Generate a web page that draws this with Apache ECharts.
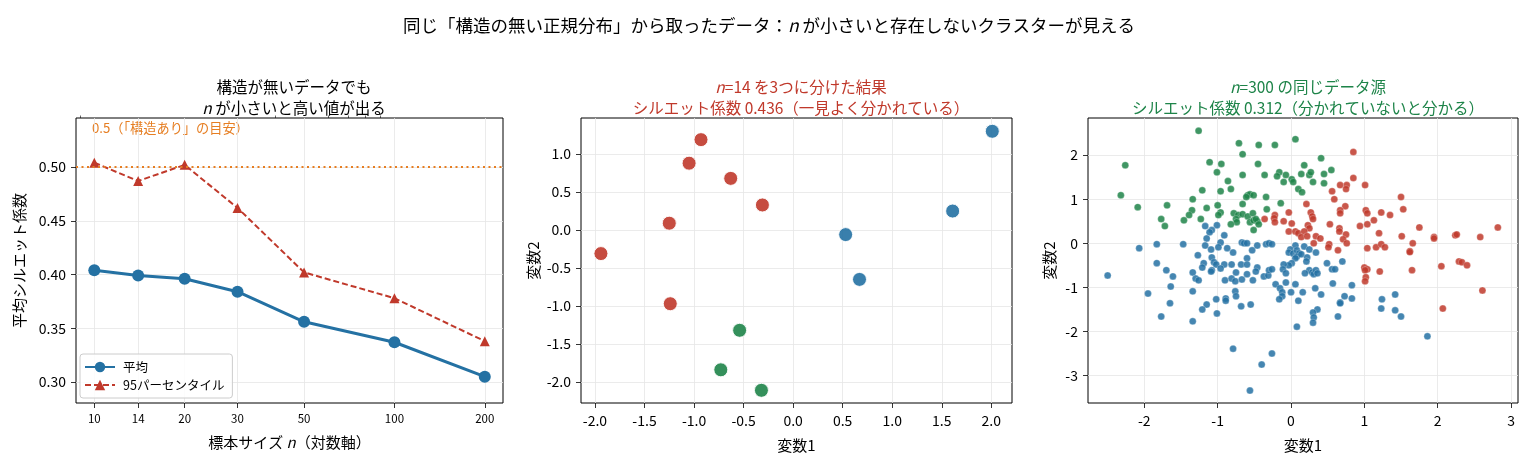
<!DOCTYPE html>
<html><head><meta charset="utf-8">
<script src="https://cdn.jsdelivr.net/npm/echarts@6/dist/echarts.min.js"></script>
<style>html,body{margin:0;padding:0;background:#fff}#c{width:1528px;height:465px}</style>
</head><body><div id="c"></div>
<script>
// ---- data ----
const nSizes = [10, 14, 20, 30, 50, 100, 200];
const meanSil = [0.404, 0.399, 0.396, 0.384, 0.356, 0.337, 0.305];
const p95Sil = [0.504, 0.487, 0.502, 0.462, 0.402, 0.378, 0.338];
const guideValue = 0.5;

const n14Red = [[-0.93,1.19],[-1.05,0.88],[-0.63,0.68],[-0.31,0.33],[-1.25,0.09],[-1.94,-0.31],[-1.24,-0.97]];
const n14Blue = [[2.01,1.30],[1.61,0.25],[0.53,-0.06],[0.67,-0.65]];
const n14Green = [[-0.54,-1.32],[-0.73,-1.84],[-0.32,-2.11]];

const n300Green = [[-1.26,2.55],[-0.71,2.27],[-0.44,2.23],[-0.22,2.23],[0.06,2.36],[-0.66,2.02],[-2.26,1.77],[-1.11,1.84],[-0.95,1.80],[-0.45,1.80],[0.41,1.93],[0.18,1.77],[-1.01,1.61],[-0.66,1.55],[-0.36,1.55],[-0.16,1.61],[-0.19,1.52],[-0.07,1.55],[0.01,1.45],[-0.10,1.39],[0.03,1.39],[0.14,1.57],[0.25,1.55],[0.27,1.61],[0.30,1.39],[0.45,1.57],[0.55,1.66],[0.45,1.36],[-0.86,1.41],[-0.82,1.23],[-0.96,1.18],[-1.21,1.20],[-2.32,1.09],[0.10,1.23],[0.15,1.16],[-0.59,1.09],[-0.56,1.11],[-0.51,1.09],[-0.61,1.05],[-0.34,1.05],[-1.34,1.00],[-2.09,0.82],[-1.69,0.86],[-1.35,0.75],[-1.15,0.80],[-1.00,0.86],[-0.96,0.70],[-0.99,0.64],[-0.66,0.89],[-0.33,0.77],[-0.14,0.91],[-0.78,0.68],[-0.72,0.64],[-0.66,0.66],[-0.59,0.61],[-0.52,0.68],[-0.75,0.55],[-0.74,0.48],[-0.56,0.48],[-0.51,0.52],[-0.46,0.50],[-0.48,0.55],[-0.44,0.43],[-0.82,0.43],[-1.39,0.64],[-1.46,0.52],[-1.23,0.55],[-1.77,0.55],[-1.72,0.39],[-0.51,0.30]];
const n300Red = [[0.85,2.07],[0.85,1.48],[1.01,1.32],[0.67,1.32],[0.76,1.32],[0.75,1.23],[0.56,1.18],[0.59,1.00],[1.50,1.05],[1.53,0.77],[0.21,0.89],[0.74,0.84],[0.67,0.75],[0.67,0.68],[1.02,0.75],[1.04,0.68],[1.23,0.70],[1.35,0.64],[-0.03,0.70],[-0.22,0.64],[-0.23,0.57],[-0.36,0.55],[-0.22,0.48],[-0.10,0.50],[0.01,0.45],[0.27,0.70],[0.29,0.61],[0.30,0.55],[0.23,0.41],[0.25,0.34],[0.53,0.43],[1.13,0.52],[1.04,0.43],[0.94,0.39],[1.75,0.36],[2.82,0.36],[-0.03,0.27],[0.06,0.27],[0.10,0.23],[0.18,0.27],[0.14,0.14],[0.22,0.16],[0.34,0.16],[0.40,0.11],[0.66,0.34],[0.66,0.27],[0.75,0.20],[0.71,0.09],[0.76,0.00],[1.20,0.23],[1.51,0.16],[1.95,0.14],[1.95,0.11],[2.24,0.18],[2.26,0.20],[2.58,0.14],[0.31,0.00],[0.52,-0.02],[0.51,-0.09],[0.64,-0.16],[1.04,-0.11],[1.16,-0.09],[1.23,-0.02],[1.28,-0.09],[1.66,0.00],[1.62,-0.18],[1.62,-0.20],[1.00,-0.55],[1.04,-0.59],[1.01,-0.61],[1.21,-0.64],[1.65,-0.61],[2.05,-0.52],[2.29,-0.41],[2.33,-0.43],[2.40,-0.50],[1.02,-0.77],[1.01,-0.86],[2.61,-1.07],[2.07,-1.48]];
const n300Blue = [[-1.01,0.41],[-1.17,0.39],[-1.08,0.30],[-1.11,0.25],[-0.91,0.18],[-1.15,0.11],[-0.96,0.02],[-1.17,-0.05],[-0.99,-0.09],[-1.09,-0.14],[-0.87,-0.11],[-0.79,-0.21],[-0.67,0.02],[-0.64,0.00],[-0.60,0.00],[-0.53,-0.16],[-0.46,-0.05],[-0.34,-0.02],[-0.30,0.00],[-0.26,-0.02],[-1.83,-0.02],[-1.47,-0.02],[-2.07,-0.11],[-1.27,-0.27],[-1.08,-0.32],[-1.19,-0.45],[-1.21,-0.55],[-1.05,-0.43],[-1.02,-0.48],[-0.91,-0.48],[-0.96,-0.57],[-0.81,-0.48],[-0.68,-0.48],[-0.60,-0.34],[-0.60,-0.48],[-0.46,-0.55],[-0.48,-0.64],[-1.08,-0.61],[-1.09,-0.64],[-1.83,-0.45],[-1.70,-0.61],[-1.61,-0.75],[-1.34,-0.66],[-1.30,-0.80],[-1.26,-0.84],[-0.90,-0.84],[-0.75,-0.66],[-0.81,-0.80],[-0.76,-0.86],[-0.67,-0.82],[-0.60,-0.70],[-0.52,-0.84],[-0.37,-0.75],[-0.31,-0.73],[-0.30,-0.61],[-0.26,-0.59],[-2.50,-0.73],[-1.64,-0.98],[-1.95,-1.14],[-1.34,-1.09],[-0.76,-1.09],[-0.75,-1.20],[-1.02,-1.27],[-0.89,-1.25],[-0.89,-1.30],[-1.15,-1.39],[-1.21,-1.50],[-1.65,-1.36],[-1.77,-1.66],[-1.34,-1.77],[-1.01,-1.59],[-0.68,-1.43],[-0.55,-1.39],[-0.79,-2.39],[-0.40,-2.75],[-0.26,-2.50],[-0.56,-3.34],[0.06,-0.05],[-0.01,-0.14],[-0.03,-0.21],[0.03,-0.23],[0.08,-0.16],[0.11,-0.23],[0.08,-0.30],[0.06,-0.34],[0.14,-0.25],[0.18,-0.07],[0.25,-0.14],[0.34,-0.21],[0.22,-0.32],[0.21,-0.41],[0.01,-0.45],[-0.03,-0.50],[-0.10,-0.48],[-0.11,-0.59],[-0.07,-0.68],[0.25,-0.61],[0.29,-0.66],[0.31,-0.70],[0.34,-0.61],[0.36,-0.68],[0.19,-0.68],[0.49,-0.45],[0.56,-0.59],[0.60,-0.59],[0.70,-0.41],[0.57,-0.91],[0.83,-0.95],[-0.07,-0.89],[0.06,-0.93],[-0.21,-0.93],[-0.15,-1.02],[-0.12,-1.11],[0.00,-1.11],[0.16,-1.11],[0.33,-1.02],[0.41,-1.16],[-0.12,-1.20],[-0.16,-1.27],[0.10,-1.30],[0.73,-1.20],[0.67,-1.34],[0.67,-1.36],[0.83,-1.25],[0.36,-1.50],[0.30,-1.57],[0.31,-1.68],[0.30,-1.80],[0.64,-1.66],[0.08,-1.89],[1.24,-1.27],[1.23,-1.48],[1.42,-1.16],[1.42,-1.52],[1.50,-1.66],[1.86,-2.11]];

// ---- tick labels ----
const leftXTicks = [10, 14, 20, 30, 50, 100, 200];
const leftXMinor = [9, 40, 60, 70, 80, 90];
const leftYTicks = [0.30, 0.35, 0.40, 0.45, 0.50];
const midXTicks = [-2.0, -1.5, -1.0, -0.5, 0.0, 0.5, 1.0, 1.5, 2.0];
const midYTicks = [-2.0, -1.5, -1.0, -0.5, 0.0, 0.5, 1.0];
const rightXTicks = [-2, -1, 0, 1, 2, 3];
const rightYTicks = [-3, -2, -1, 0, 1, 2];

// ---- styles ----
const FONT = '"Noto Sans CJK JP", "Noto Sans", sans-serif';
const BLUE = '#2471A3', RED = '#C0392B', GREEN = '#1E8449', ORANGE = '#E67E22';
const GRIDLINE = { show: true, lineStyle: { color: '#e6e6e6', width: 0.8 } };

function axisCommon(gridIndex, min, max, ticks, fmt, fontSize, margin) {
  return {
    gridIndex, min, max,
    axisLine: { show: false, onZero: false },
    axisTick: { show: true, customValues: ticks, length: 5, inside: false, lineStyle: { color: '#000', width: 0.8 } },
    axisLabel: { customValues: ticks, formatter: fmt, color: '#000', fontSize: fontSize || 14, fontFamily: FONT, margin: margin || 10 },
    splitLine: GRIDLINE
  };
}
const nameStyle = { color: '#000', fontSize: 15, fontFamily: FONT, rich: { i: { fontStyle: 'italic', fontSize: 15, fontFamily: FONT, color: '#000' } } };

const chart = echarts.init(document.getElementById('c'), null, { renderer: 'canvas' });

function titleItem(text, left, top, color, size, lh) {
  return {
    text, left, top, textAlign: 'center',
    textStyle: { fontSize: size, fontWeight: 'normal', color, fontFamily: FONT, lineHeight: lh,
      rich: { i: { fontStyle: 'italic', fontSize: size, color, fontFamily: FONT, lineHeight: lh } } }
  };
}

const option = {
  backgroundColor: '#fff',
  animation: false,
  title: [
    titleItem('同じ「構造の無い正規分布」から取ったデータ：{i|n} が小さいと存在しないクラスターが見える', 764, 9, '#000', 17.5, 22),
    titleItem('構造が無いデータでも\n{i|n} が小さいと高い値が出る', 289, 72, '#000', 15.5, 21),
    titleItem('{i|n}=14 を3つに分けた結果\nシルエット係数 0.436（一見よく分かれている）', 796, 72, RED, 15.5, 21),
    titleItem('{i|n}=300 の同じデータ源\nシルエット係数 0.312（分かれていないと分かる）', 1303, 72, GREEN, 15.5, 21)
  ],
  graphic: [{
    type: 'text', left: 92, top: 121,
    style: { text: '0.5（「構造あり」の目安）', fill: ORANGE, font: '13.2px ' + FONT }
  }],
  legend: {
    left: 80, top: 354, orient: 'vertical',
    data: ['平均', '95パーセンタイル'],
    backgroundColor: 'rgba(255,255,255,0.85)', borderColor: '#cccccc', borderWidth: 1, borderRadius: 3,
    padding: [5, 8, 5, 4], itemGap: 2, itemWidth: 30, itemHeight: 13,
    textStyle: { fontSize: 12.5, fontFamily: FONT, color: '#000', lineHeight: 16, padding: [0, 0, 0, 3] }
  },
  grid: [
    { left: 76, top: 118, width: 427, height: 285, show: true, borderColor: '#000', borderWidth: 1, backgroundColor: 'transparent' },
    { left: 581, top: 118, width: 431, height: 285, show: true, borderColor: '#000', borderWidth: 1, backgroundColor: 'transparent' },
    { left: 1088, top: 118, width: 430, height: 285, show: true, borderColor: '#000', borderWidth: 1, backgroundColor: 'transparent' }
  ],
  xAxis: [
    Object.assign(axisCommon(0, 8.69, 230, leftXTicks, v => String(Math.round(v)), 11.5, 10), {
      type: 'log', logBase: 10,
      name: '標本サイズ {i|n}（対数軸）', nameLocation: 'middle', nameGap: 32, nameTextStyle: nameStyle
    }),
    {
      type: 'log', logBase: 10, gridIndex: 0, min: 8.69, max: 230,
      axisLine: { show: false, onZero: false }, axisLabel: { show: false }, splitLine: { show: false },
      axisTick: { show: true, customValues: leftXMinor, length: 2.5, lineStyle: { color: '#000', width: 0.6 } }
    },
    Object.assign(axisCommon(1, -2.141, 2.209, midXTicks, v => v.toFixed(1), 14, 11), {
      type: 'value', name: '変数1', nameLocation: 'middle', nameGap: 35, nameTextStyle: nameStyle
    }),
    Object.assign(axisCommon(2, -2.768, 3.095, rightXTicks, v => String(Math.round(v)), 14, 11), {
      type: 'value', name: '変数1', nameLocation: 'middle', nameGap: 35, nameTextStyle: nameStyle
    })
  ],
  yAxis: [
    Object.assign(axisCommon(0, 0.2805, 0.5456, leftYTicks, v => v.toFixed(2), 14, 10), {
      type: 'value', name: '平均シルエット係数', nameLocation: 'middle', nameGap: 49, nameTextStyle: nameStyle
    }),
    Object.assign(axisCommon(1, -2.277, 1.475, midYTicks, v => v.toFixed(1), 14, 10), {
      type: 'value', name: '変数2', nameLocation: 'middle', nameGap: 40, nameTextStyle: nameStyle
    }),
    Object.assign(axisCommon(2, -3.621, 2.841, rightYTicks, v => String(Math.round(v)), 14, 10), {
      type: 'value', name: '変数2', nameLocation: 'middle', nameGap: 31, nameTextStyle: nameStyle
    })
  ],
  series: [
    {
      name: '平均', type: 'line', xAxisIndex: 0, yAxisIndex: 0,
      data: nSizes.map((n, i) => [n, meanSil[i]]),
      symbol: 'circle', symbolSize: 12, itemStyle: { color: BLUE },
      lineStyle: { color: BLUE, width: 3 }, z: 3,
      markLine: {
        silent: true, symbol: 'none', label: { show: false },
        lineStyle: { color: ORANGE, type: [2, 3.5], width: 2 },
        data: [{ yAxis: guideValue }]
      }
    },
    {
      name: '95パーセンタイル', type: 'line', xAxisIndex: 0, yAxisIndex: 0,
      data: nSizes.map((n, i) => [n, p95Sil[i]]),
      symbol: 'triangle', symbolSize: 10, itemStyle: { color: RED },
      lineStyle: { color: RED, width: 2, type: [6, 3] }, z: 3
    },
    { type: 'scatter', xAxisIndex: 2, yAxisIndex: 1, data: n14Red, symbolSize: 14,
      itemStyle: { color: RED, opacity: 0.9, borderColor: '#fff', borderWidth: 1 } },
    { type: 'scatter', xAxisIndex: 2, yAxisIndex: 1, data: n14Blue, symbolSize: 14,
      itemStyle: { color: BLUE, opacity: 0.9, borderColor: '#fff', borderWidth: 1 } },
    { type: 'scatter', xAxisIndex: 2, yAxisIndex: 1, data: n14Green, symbolSize: 14,
      itemStyle: { color: GREEN, opacity: 0.9, borderColor: '#fff', borderWidth: 1 } },
    { type: 'scatter', xAxisIndex: 3, yAxisIndex: 2, data: n300Blue, symbolSize: 7,
      itemStyle: { color: BLUE, opacity: 0.85, borderColor: 'rgba(255,255,255,0.6)', borderWidth: 0.5 } },
    { type: 'scatter', xAxisIndex: 3, yAxisIndex: 2, data: n300Red, symbolSize: 7,
      itemStyle: { color: RED, opacity: 0.85, borderColor: 'rgba(255,255,255,0.6)', borderWidth: 0.5 } },
    { type: 'scatter', xAxisIndex: 3, yAxisIndex: 2, data: n300Green, symbolSize: 7,
      itemStyle: { color: GREEN, opacity: 0.85, borderColor: 'rgba(255,255,255,0.6)', borderWidth: 0.5 } }
  ]
};
chart.setOption(option);
</script></body></html>
